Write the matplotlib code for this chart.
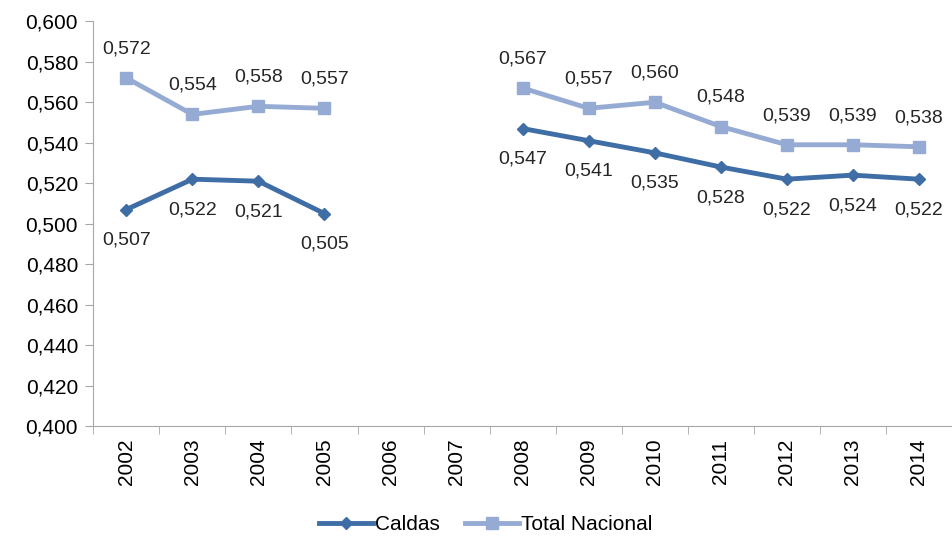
import numpy as np
import matplotlib
matplotlib.use("Agg")
import matplotlib.pyplot as plt
from matplotlib.ticker import FuncFormatter, MultipleLocator

plt.rcParams['font.family'] = ['Liberation Sans', 'DejaVu Sans']

years = ['2002', '2003', '2004', '2005', '2006', '2007', '2008',
         '2009', '2010', '2011', '2012', '2013', '2014']
# nan = no data (2006, 2007)
caldas = [0.507, 0.522, 0.521, 0.505, np.nan, np.nan, 0.547,
          0.541, 0.535, 0.528, 0.522, 0.524, 0.522]
total_nacional = [0.572, 0.554, 0.558, 0.557, np.nan, np.nan, 0.567,
                  0.557, 0.560, 0.548, 0.539, 0.539, 0.538]

dark_blue = '#3f6da6'
light_blue = '#96abd4'
axis_gray = '#a6a6a6'

fig = plt.figure(figsize=(9.52, 5.45), dpi=100)
ax = fig.add_axes([0.098, 0.218, 0.902, 0.743])

x = np.arange(len(years))
ax.plot(x, caldas, color=dark_blue, lw=3.5, marker='D', ms=6,
        label='Caldas')
ax.plot(x, total_nacional, color=light_blue, lw=3.5, marker='s', ms=8,
        label='Total Nacional')

fmt = lambda v: f'{v:.3f}'.replace('.', ',')

# data labels: Total Nacional above, Caldas below
for xi, v in zip(x, total_nacional):
    if not np.isnan(v):
        ax.annotate(fmt(v), (xi, v), xytext=(0, 21), textcoords='offset points',
                    ha='center', va='center', fontsize=14, color='#262626')
for xi, v in zip(x, caldas):
    if not np.isnan(v):
        ax.annotate(fmt(v), (xi, v), xytext=(0, -22), textcoords='offset points',
                    ha='center', va='center', fontsize=14, color='#262626')

ax.set_xlim(-0.5, len(years) - 0.5)
ax.set_ylim(0.4, 0.6)
ax.yaxis.set_major_locator(MultipleLocator(0.02))
ax.yaxis.set_major_formatter(FuncFormatter(lambda v, p: fmt(v)))

ax.set_xticks(x)
ax.set_xticklabels(years, rotation=90)
ax.set_xticks(np.arange(len(years) + 1) - 0.5, minor=True)
ax.tick_params(axis='x', which='major', length=0, pad=9, labelsize=15)
ax.tick_params(axis='x', which='minor', length=6, color=axis_gray)
ax.tick_params(axis='y', length=6, color=axis_gray, labelsize=15, pad=5)

for s in ['top', 'right']:
    ax.spines[s].set_visible(False)
for s in ['left', 'bottom']:
    ax.spines[s].set_color(axis_gray)

fig.legend(loc='lower center', bbox_to_anchor=(0.51, -0.015), ncol=2,
           frameon=False, fontsize=15, handlelength=2.6, columnspacing=1.2,
           handletextpad=0.1)

fig.savefig('out.png', dpi=100)
